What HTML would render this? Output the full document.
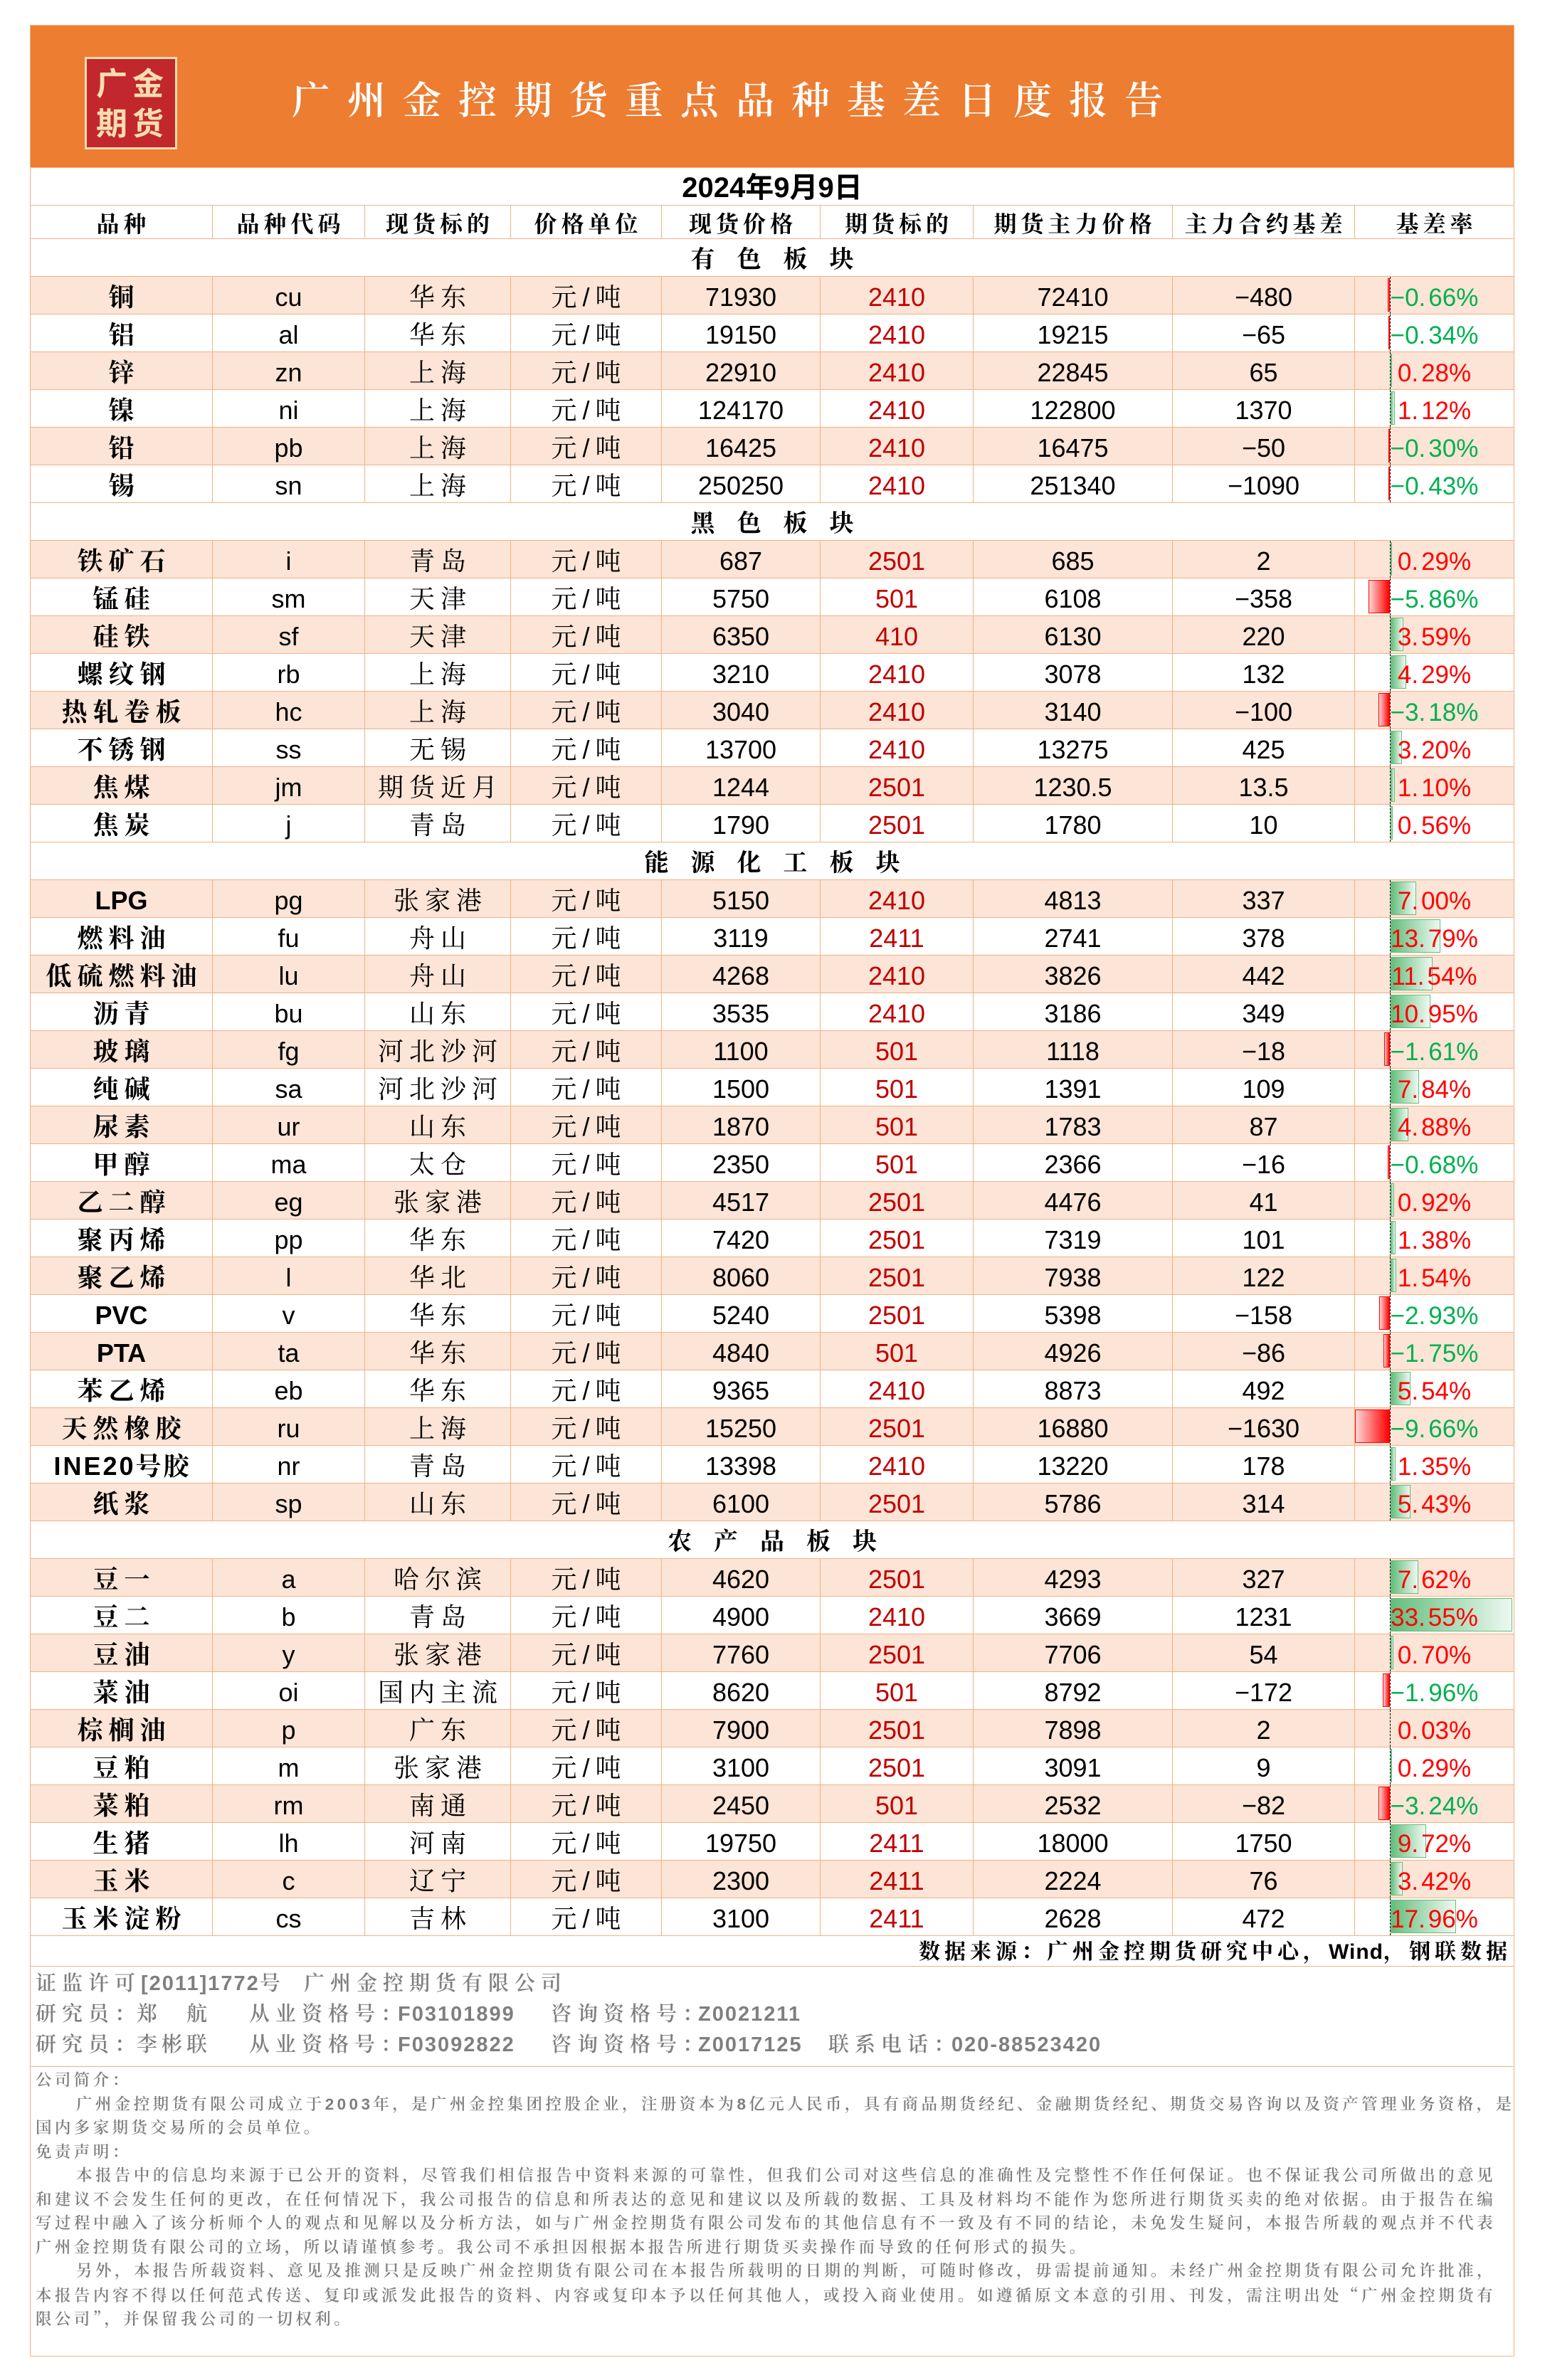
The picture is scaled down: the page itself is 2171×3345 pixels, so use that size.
<!DOCTYPE html>
<html><head><meta charset="utf-8">
<style>
*{margin:0;padding:0}
body{width:2171px;height:3345px;position:relative;overflow:hidden;background:#fff;font-family:"Liberation Sans","Noto Serif CJK SC",serif;color:#000}
.a{position:absolute;white-space:nowrap}
.hd{left:42px;top:35px;width:2086px;height:200px;background:#ED7D31;box-sizing:border-box;border:1px solid #F4B183;border-bottom:none}
.logo{left:119px;top:80px;width:130px;height:130px;box-sizing:border-box;border:3px solid #F6DCB0;background:#C1272D}
.lt{left:135px;font:700 44px/56px "Liberation Sans","Noto Sans CJK SC",sans-serif;letter-spacing:7px;color:#F9DDB1}
.title{left:410px;top:112px;font:600 54px/60px "Liberation Sans","Noto Serif CJK SC",serif;letter-spacing:24px;color:#fff}
.r{position:absolute;left:42px;width:2086px;height:53px;box-sizing:border-box;border-top:1px solid #F4B183;border-right:1px solid #F4B183;border-left:1px solid #F4B183;display:flex;font-size:36px}
.r>i{display:block;font-style:normal;box-sizing:border-box;height:52px;line-height:52px;padding-top:3px;text-align:center;white-space:nowrap;position:relative}
.r>i+i{border-left:1px solid #F4B183}
.r>i:nth-child(1){width:255px}
.r>i:nth-child(2){width:214px}
.r>i:nth-child(3){width:205px}
.r>i:nth-child(4){width:212px}
.r>i:nth-child(5){width:223px}
.r>i:nth-child(6){width:215px}
.r>i:nth-child(7){width:280px}
.r>i:nth-child(8){width:256px}
.r>i:nth-child(9){width:224px}
.p{background:#FCE4D6}
.s>i{width:2084px!important;font-size:34px;font-weight:700;letter-spacing:31px;padding-left:31px}
.h{height:47px}
.h>i{height:46px;line-height:46px;font-size:32px;font-weight:700;letter-spacing:6px;padding-left:6px}
.z{letter-spacing:8px;padding-left:8px}
.b{font-weight:700}
.f{color:#C00000}
.x{position:absolute;left:49px;top:0;height:52px;border-left:1px dashed #000}
.gp{position:absolute;left:50px;top:2px;height:47px;box-sizing:border-box;border:1px solid #63BE7B;background:linear-gradient(90deg,#63BE7B,#EEF8F1)}
.gn{position:absolute;right:174px;top:2px;height:47px;box-sizing:border-box;border:1px solid #FF0000;background:linear-gradient(270deg,#FF0000,#FFD6D6)}
.q span{position:relative;z-index:1;font-size:35px}
.q em{font-style:normal;margin-right:4px}
.po{color:#FF0000}
.ng{color:#00B050}
.ft{position:absolute;left:42px;width:2086px;box-sizing:border-box;border:1px solid #F4B183;border-bottom:none}
.ds{right:47px;top:2721px;line-height:42px;padding-top:2px;font-weight:700;font-size:30px;letter-spacing:6px}
.inf{font-weight:600;font-size:29px;line-height:40px;letter-spacing:8px;color:#7F7F7F}
.lat{letter-spacing:2px}
.tx{left:50px;top:2907px;font-weight:600;font-size:22.5px;line-height:33.5px;letter-spacing:4.4px;color:#7F7F7F}
.tx div{white-space:nowrap;height:33.5px}
.j{text-align:justify;text-align-last:justify}
.cj{font-family:"Noto Serif CJK SC",serif}
</style></head><body>

<div class="a hd"></div>
<div class="a logo"></div>
<div class="a lt" style="top:91px">广金</div>
<div class="a lt" style="top:147px">期货</div>
<div class="a title">广州金控期货重点品种基差日度报告</div>

<div class="r" style="top:235px"><i style="width:2084px;font-size:40px;font-weight:700;padding-top:2px;font-family:'Liberation Sans','Noto Sans CJK SC',sans-serif">2024年9月9日</i></div>

<div class="r h" style="top:288px"><i>品种</i><i>品种代码</i><i>现货标的</i><i>价格单位</i><i>现货价格</i><i>期货标的</i><i>期货主力价格</i><i>主力合约基差</i><i>基差率</i></div>

<div class="r s" style="top:335px"><i>有色板块</i></div>

<div class="r p" style="top:388px"><i class="b">铜</i><i>cu</i><i class="z">华东</i><i class="z">元/吨</i><i>71930</i><i class="f">2410</i><i>72410</i><i>−480</i><i class="q"><b class="x"></b><b class="gn" style="width:3.4px"></b><span class="ng">−0<em>.</em>66%</span></i></div>
<div class="r" style="top:441px"><i class="b">铝</i><i>al</i><i class="z">华东</i><i class="z">元/吨</i><i>19150</i><i class="f">2410</i><i>19215</i><i>−65</i><i class="q"><b class="x"></b><b class="gn" style="width:1.7px"></b><span class="ng">−0<em>.</em>34%</span></i></div>
<div class="r p" style="top:494px"><i class="b">锌</i><i>zn</i><i class="z">上海</i><i class="z">元/吨</i><i>22910</i><i class="f">2410</i><i>22845</i><i>65</i><i class="q"><b class="x"></b><b class="gp" style="width:1.4px"></b><span class="po">0<em>.</em>28%</span></i></div>
<div class="r" style="top:547px"><i class="b">镍</i><i>ni</i><i class="z">上海</i><i class="z">元/吨</i><i>124170</i><i class="f">2410</i><i>122800</i><i>1370</i><i class="q"><b class="x"></b><b class="gp" style="width:5.7px"></b><span class="po">1<em>.</em>12%</span></i></div>
<div class="r p" style="top:600px"><i class="b">铅</i><i>pb</i><i class="z">上海</i><i class="z">元/吨</i><i>16425</i><i class="f">2410</i><i>16475</i><i>−50</i><i class="q"><b class="x"></b><b class="gn" style="width:1.5px"></b><span class="ng">−0<em>.</em>30%</span></i></div>
<div class="r" style="top:653px"><i class="b">锡</i><i>sn</i><i class="z">上海</i><i class="z">元/吨</i><i>250250</i><i class="f">2410</i><i>251340</i><i>−1090</i><i class="q"><b class="x"></b><b class="gn" style="width:2.2px"></b><span class="ng">−0<em>.</em>43%</span></i></div>

<div class="r s" style="top:706px"><i>黑色板块</i></div>

<div class="r p" style="top:759px"><i class="b z">铁矿石</i><i>i</i><i class="z">青岛</i><i class="z">元/吨</i><i>687</i><i class="f">2501</i><i>685</i><i>2</i><i class="q"><b class="x"></b><b class="gp" style="width:1.5px"></b><span class="po">0<em>.</em>29%</span></i></div>
<div class="r" style="top:812px"><i class="b z">锰硅</i><i>sm</i><i class="z">天津</i><i class="z">元/吨</i><i>5750</i><i class="f">501</i><i>6108</i><i>−358</i><i class="q"><b class="x"></b><b class="gn" style="width:29.9px"></b><span class="ng">−5<em>.</em>86%</span></i></div>
<div class="r p" style="top:865px"><i class="b z">硅铁</i><i>sf</i><i class="z">天津</i><i class="z">元/吨</i><i>6350</i><i class="f">410</i><i>6130</i><i>220</i><i class="q"><b class="x"></b><b class="gp" style="width:18.3px"></b><span class="po">3<em>.</em>59%</span></i></div>
<div class="r" style="top:918px"><i class="b z">螺纹钢</i><i>rb</i><i class="z">上海</i><i class="z">元/吨</i><i>3210</i><i class="f">2410</i><i>3078</i><i>132</i><i class="q"><b class="x"></b><b class="gp" style="width:21.9px"></b><span class="po">4<em>.</em>29%</span></i></div>
<div class="r p" style="top:971px"><i class="b z">热轧卷板</i><i>hc</i><i class="z">上海</i><i class="z">元/吨</i><i>3040</i><i class="f">2410</i><i>3140</i><i>−100</i><i class="q"><b class="x"></b><b class="gn" style="width:16.2px"></b><span class="ng">−3<em>.</em>18%</span></i></div>
<div class="r" style="top:1024px"><i class="b z">不锈钢</i><i>ss</i><i class="z">无锡</i><i class="z">元/吨</i><i>13700</i><i class="f">2410</i><i>13275</i><i>425</i><i class="q"><b class="x"></b><b class="gp" style="width:16.3px"></b><span class="po">3<em>.</em>20%</span></i></div>
<div class="r p" style="top:1077px"><i class="b z">焦煤</i><i>jm</i><i class="z">期货近月</i><i class="z">元/吨</i><i>1244</i><i class="f">2501</i><i>1230.5</i><i>13.5</i><i class="q"><b class="x"></b><b class="gp" style="width:5.6px"></b><span class="po">1<em>.</em>10%</span></i></div>
<div class="r" style="top:1130px"><i class="b z">焦炭</i><i>j</i><i class="z">青岛</i><i class="z">元/吨</i><i>1790</i><i class="f">2501</i><i>1780</i><i>10</i><i class="q"><b class="x"></b><b class="gp" style="width:2.9px"></b><span class="po">0<em>.</em>56%</span></i></div>

<div class="r s" style="top:1183px"><i>能源化工板块</i></div>

<div class="r p" style="top:1236px"><i class="b">LPG</i><i>pg</i><i class="z">张家港</i><i class="z">元/吨</i><i>5150</i><i class="f">2410</i><i>4813</i><i>337</i><i class="q"><b class="x"></b><b class="gp" style="width:35.7px"></b><span class="po">7<em>.</em>00%</span></i></div>
<div class="r" style="top:1289px"><i class="b z">燃料油</i><i>fu</i><i class="z">舟山</i><i class="z">元/吨</i><i>3119</i><i class="f">2411</i><i>2741</i><i>378</i><i class="q"><b class="x"></b><b class="gp" style="width:70.3px"></b><span class="po">13<em>.</em>79%</span></i></div>
<div class="r p" style="top:1342px"><i class="b z">低硫燃料油</i><i>lu</i><i class="z">舟山</i><i class="z">元/吨</i><i>4268</i><i class="f">2410</i><i>3826</i><i>442</i><i class="q"><b class="x"></b><b class="gp" style="width:58.9px"></b><span class="po">11<em>.</em>54%</span></i></div>
<div class="r" style="top:1395px"><i class="b z">沥青</i><i>bu</i><i class="z">山东</i><i class="z">元/吨</i><i>3535</i><i class="f">2410</i><i>3186</i><i>349</i><i class="q"><b class="x"></b><b class="gp" style="width:55.8px"></b><span class="po">10<em>.</em>95%</span></i></div>
<div class="r p" style="top:1448px"><i class="b z">玻璃</i><i>fg</i><i class="z">河北沙河</i><i class="z">元/吨</i><i>1100</i><i class="f">501</i><i>1118</i><i>−18</i><i class="q"><b class="x"></b><b class="gn" style="width:8.2px"></b><span class="ng">−1<em>.</em>61%</span></i></div>
<div class="r" style="top:1501px"><i class="b z">纯碱</i><i>sa</i><i class="z">河北沙河</i><i class="z">元/吨</i><i>1500</i><i class="f">501</i><i>1391</i><i>109</i><i class="q"><b class="x"></b><b class="gp" style="width:40px"></b><span class="po">7<em>.</em>84%</span></i></div>
<div class="r p" style="top:1554px"><i class="b z">尿素</i><i>ur</i><i class="z">山东</i><i class="z">元/吨</i><i>1870</i><i class="f">501</i><i>1783</i><i>87</i><i class="q"><b class="x"></b><b class="gp" style="width:24.9px"></b><span class="po">4<em>.</em>88%</span></i></div>
<div class="r" style="top:1607px"><i class="b z">甲醇</i><i>ma</i><i class="z">太仓</i><i class="z">元/吨</i><i>2350</i><i class="f">501</i><i>2366</i><i>−16</i><i class="q"><b class="x"></b><b class="gn" style="width:3.5px"></b><span class="ng">−0<em>.</em>68%</span></i></div>
<div class="r p" style="top:1660px"><i class="b z">乙二醇</i><i>eg</i><i class="z">张家港</i><i class="z">元/吨</i><i>4517</i><i class="f">2501</i><i>4476</i><i>41</i><i class="q"><b class="x"></b><b class="gp" style="width:4.7px"></b><span class="po">0<em>.</em>92%</span></i></div>
<div class="r" style="top:1713px"><i class="b z">聚丙烯</i><i>pp</i><i class="z">华东</i><i class="z">元/吨</i><i>7420</i><i class="f">2501</i><i>7319</i><i>101</i><i class="q"><b class="x"></b><b class="gp" style="width:7px"></b><span class="po">1<em>.</em>38%</span></i></div>
<div class="r p" style="top:1766px"><i class="b z">聚乙烯</i><i>l</i><i class="z">华北</i><i class="z">元/吨</i><i>8060</i><i class="f">2501</i><i>7938</i><i>122</i><i class="q"><b class="x"></b><b class="gp" style="width:7.9px"></b><span class="po">1<em>.</em>54%</span></i></div>
<div class="r" style="top:1819px"><i class="b">PVC</i><i>v</i><i class="z">华东</i><i class="z">元/吨</i><i>5240</i><i class="f">2501</i><i>5398</i><i>−158</i><i class="q"><b class="x"></b><b class="gn" style="width:14.9px"></b><span class="ng">−2<em>.</em>93%</span></i></div>
<div class="r p" style="top:1872px"><i class="b">PTA</i><i>ta</i><i class="z">华东</i><i class="z">元/吨</i><i>4840</i><i class="f">501</i><i>4926</i><i>−86</i><i class="q"><b class="x"></b><b class="gn" style="width:8.9px"></b><span class="ng">−1<em>.</em>75%</span></i></div>
<div class="r" style="top:1925px"><i class="b z">苯乙烯</i><i>eb</i><i class="z">华东</i><i class="z">元/吨</i><i>9365</i><i class="f">2410</i><i>8873</i><i>492</i><i class="q"><b class="x"></b><b class="gp" style="width:28.3px"></b><span class="po">5<em>.</em>54%</span></i></div>
<div class="r p" style="top:1978px"><i class="b z">天然橡胶</i><i>ru</i><i class="z">上海</i><i class="z">元/吨</i><i>15250</i><i class="f">2501</i><i>16880</i><i>−1630</i><i class="q"><b class="x"></b><b class="gn" style="width:49.3px"></b><span class="ng">−9<em>.</em>66%</span></i></div>
<div class="r" style="top:2031px"><i class="b" style="letter-spacing:3px;padding-left:3px">INE20号胶</i><i>nr</i><i class="z">青岛</i><i class="z">元/吨</i><i>13398</i><i class="f">2410</i><i>13220</i><i>178</i><i class="q"><b class="x"></b><b class="gp" style="width:6.9px"></b><span class="po">1<em>.</em>35%</span></i></div>
<div class="r p" style="top:2084px"><i class="b z">纸浆</i><i>sp</i><i class="z">山东</i><i class="z">元/吨</i><i>6100</i><i class="f">2501</i><i>5786</i><i>314</i><i class="q"><b class="x"></b><b class="gp" style="width:27.7px"></b><span class="po">5<em>.</em>43%</span></i></div>

<div class="r s" style="top:2137px"><i>农产品板块</i></div>

<div class="r p" style="top:2190px"><i class="b z">豆一</i><i>a</i><i class="z">哈尔滨</i><i class="z">元/吨</i><i>4620</i><i class="f">2501</i><i>4293</i><i>327</i><i class="q"><b class="x"></b><b class="gp" style="width:38.9px"></b><span class="po">7<em>.</em>62%</span></i></div>
<div class="r" style="top:2243px"><i class="b z">豆二</i><i>b</i><i class="z">青岛</i><i class="z">元/吨</i><i>4900</i><i class="f">2410</i><i>3669</i><i>1231</i><i class="q"><b class="x"></b><b class="gp" style="width:171.1px"></b><span class="po">33<em>.</em>55%</span></i></div>
<div class="r p" style="top:2296px"><i class="b z">豆油</i><i>y</i><i class="z">张家港</i><i class="z">元/吨</i><i>7760</i><i class="f">2501</i><i>7706</i><i>54</i><i class="q"><b class="x"></b><b class="gp" style="width:3.6px"></b><span class="po">0<em>.</em>70%</span></i></div>
<div class="r" style="top:2349px"><i class="b z">菜油</i><i>oi</i><i class="z">国内主流</i><i class="z">元/吨</i><i>8620</i><i class="f">501</i><i>8792</i><i>−172</i><i class="q"><b class="x"></b><b class="gn" style="width:10px"></b><span class="ng">−1<em>.</em>96%</span></i></div>
<div class="r p" style="top:2402px"><i class="b z">棕榈油</i><i>p</i><i class="z">广东</i><i class="z">元/吨</i><i>7900</i><i class="f">2501</i><i>7898</i><i>2</i><i class="q"><b class="x"></b><span class="po">0<em>.</em>03%</span></i></div>
<div class="r" style="top:2455px"><i class="b z">豆粕</i><i>m</i><i class="z">张家港</i><i class="z">元/吨</i><i>3100</i><i class="f">2501</i><i>3091</i><i>9</i><i class="q"><b class="x"></b><b class="gp" style="width:1.5px"></b><span class="po">0<em>.</em>29%</span></i></div>
<div class="r p" style="top:2508px"><i class="b z">菜粕</i><i>rm</i><i class="z">南通</i><i class="z">元/吨</i><i>2450</i><i class="f">501</i><i>2532</i><i>−82</i><i class="q"><b class="x"></b><b class="gn" style="width:16.5px"></b><span class="ng">−3<em>.</em>24%</span></i></div>
<div class="r" style="top:2561px"><i class="b z">生猪</i><i>lh</i><i class="z">河南</i><i class="z">元/吨</i><i>19750</i><i class="f">2411</i><i>18000</i><i>1750</i><i class="q"><b class="x"></b><b class="gp" style="width:49.6px"></b><span class="po">9<em>.</em>72%</span></i></div>
<div class="r p" style="top:2614px"><i class="b z">玉米</i><i>c</i><i class="z">辽宁</i><i class="z">元/吨</i><i>2300</i><i class="f">2411</i><i>2224</i><i>76</i><i class="q"><b class="x"></b><b class="gp" style="width:17.4px"></b><span class="po">3<em>.</em>42%</span></i></div>
<div class="r" style="top:2667px"><i class="b z">玉米淀粉</i><i>cs</i><i class="z">吉林</i><i class="z">元/吨</i><i>3100</i><i class="f">2411</i><i>2628</i><i>472</i><i class="q"><b class="x"></b><b class="gp" style="width:91.6px"></b><span class="po">17<em>.</em>96%</span></i></div>

<div class="ft" style="top:2720px;height:43px"></div>
<div class="ft" style="top:2763px;height:141px"></div>
<div class="ft" style="top:2904px;height:408px;border-bottom:1px solid #F4B183"></div>

<div class="a ds">数据来源：广州金控期货研究中心，<span style="letter-spacing:1px">Wind</span>，钢联数据</div>

<div class="a inf" style="left:50px;top:2768px">证监许可<span class="lat">[2011]1772</span>号</div>
<div class="a inf" style="left:427px;top:2768px">广州金控期货有限公司</div>

<div class="a inf" style="left:50px;top:2811px">研究员：</div>
<div class="a inf" style="left:192px;top:2811px">郑</div>
<div class="a inf" style="left:262px;top:2811px">航</div>
<div class="a inf" style="left:350px;top:2811px">从业资格号：</div>
<div class="a inf lat" style="left:559px;top:2811px">F03101899</div>
<div class="a inf" style="left:774px;top:2811px">咨询资格号：</div>
<div class="a inf lat" style="left:981px;top:2811px">Z0021211</div>

<div class="a inf" style="left:50px;top:2854px">研究员：</div>
<div class="a inf" style="left:192px;top:2854px;letter-spacing:6px">李彬联</div>
<div class="a inf" style="left:350px;top:2854px">从业资格号：</div>
<div class="a inf lat" style="left:559px;top:2854px">F03092822</div>
<div class="a inf" style="left:774px;top:2854px">咨询资格号：</div>
<div class="a inf lat" style="left:981px;top:2854px">Z0017125</div>
<div class="a inf" style="left:1164px;top:2854px">联系电话：</div>
<div class="a inf lat" style="left:1337px;top:2854px">020-88523420</div>

<div class="a tx">
<div>公司简介：</div>
<div class="j" style="margin-left:57px;width:2012px">广州金控期货有限公司成立于2003年，是广州金控集团控股企业，注册资本为8亿元人民币，具有商品期货经纪、金融期货经纪、期货交易咨询以及资产管理业务资格，是</div>
<div>国内多家期货交易所的会员单位。</div>
<div>免责声明：</div>
<div class="j" style="margin-left:57px;width:1995px">本报告中的信息均来源于已公开的资料，尽管我们相信报告中资料来源的可靠性，但我们公司对这些信息的准确性及完整性不作任何保证。也不保证我公司所做出的意见</div>
<div class="j" style="width:2052px">和建议不会发生任何的更改，在任何情况下，我公司报告的信息和所表达的意见和建议以及所载的数据、工具及材料均不能作为您所进行期货买卖的绝对依据。由于报告在编</div>
<div class="j" style="width:2052px">写过程中融入了该分析师个人的观点和见解以及分析方法，如与广州金控期货有限公司发布的其他信息有不一致及有不同的结论，未免发生疑问，本报告所载的观点并不代表</div>
<div>广州金控期货有限公司的立场，所以请谨慎参考。我公司不承担因根据本报告所进行期货买卖操作而导致的任何形式的损失。</div>
<div class="j" style="margin-left:57px;width:1995px">另外，本报告所载资料、意见及推测只是反映广州金控期货有限公司在本报告所载明的日期的判断，可随时修改，毋需提前通知。未经广州金控期货有限公司允许批准，</div>
<div class="j" style="width:2052px">本报告内容不得以任何范式传送、复印或派发此报告的资料、内容或复印本予以任何其他人，或投入商业使用。如遵循原文本意的引用、刊发，需注明出处<span class="cj">“</span>广州金控期货有</div>
<div>限公司<span class="cj">”</span>，并保留我公司的一切权利。</div>
</div>

</body></html>
